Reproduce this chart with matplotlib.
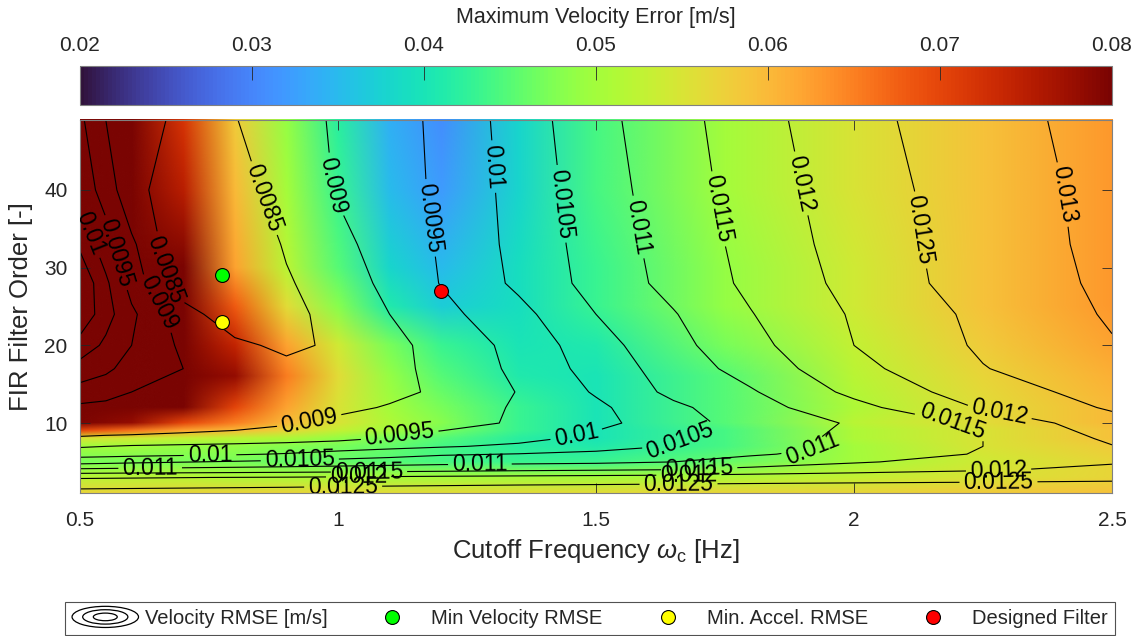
import numpy as np
import matplotlib
matplotlib.use('Agg')
import matplotlib.pyplot as plt
from matplotlib.image import NonUniformImage
from matplotlib.legend_handler import HandlerBase
from matplotlib.patches import Ellipse
from matplotlib.lines import Line2D

plt.rcParams['font.family'] = ['Liberation Sans', 'DejaVu Sans']
plt.rcParams['mathtext.fontset'] = 'custom'
plt.rcParams['mathtext.rm'] = 'Liberation Sans'
plt.rcParams['mathtext.it'] = 'Liberation Sans:italic'

# ---- velocity RMSE [m/s] over cutoff frequency (cols) x filter order (rows) ----
cutoff_rmse = [0.5, 0.55, 0.6, 0.7, 0.8, 0.9, 1.0, 1.1, 1.2, 1.35, 1.5, 1.65, 1.8, 2.0, 2.25, 2.5]
order_rmse = [1, 2, 3, 4, 5, 6, 7, 8, 10, 12, 14, 17, 20, 24, 28, 33, 40, 49]
rmse = [
    [.01270, .01271, .01272, .01274, .01276, .01278, .01280, .01282, .01284, .01286, .01288, .01290, .01292, .01294, .01296, .01298],
    [.01232, .01233, .01234, .01236, .01238, .01240, .01243, .01246, .01248, .01251, .01253, .01255, .01257, .01259, .01261, .01263],
    [.01195, .01196, .01197, .01199, .01201, .01203, .01206, .01209, .01212, .01215, .01218, .01221, .01225, .01229, .01233, .01238],
    [.01110, .01112, .01114, .01117, .01120, .01123, .01126, .01130, .01134, .01140, .01145, .01150, .01165, .01180, .01195, .01212],
    [.01030, .01035, .01040, .01048, .01055, .01062, .01070, .01076, .01082, .01086, .01090, .01100, .01118, .01145, .01170, .01195],
    [.00980, .00982, .00985, .00990, .00995, .01003, .01015, .01030, .01044, .01052, .01062, .01078, .01095, .01115, .01155, .01195],
    [.00945, .00950, .00955, .00960, .00965, .00970, .00978, .00985, .00995, .01010, .01030, .01052, .01075, .01108, .01150, .01198],
    [.00905, .00908, .00910, .00915, .00920, .00928, .00938, .00955, .00965, .00985, .01015, .01045, .01080, .01110, .01150, .01208],
    [.00870, .00870, .00870, .00875, .00882, .00895, .00915, .00925, .00935, .00955, .00985, .01030, .01070, .01105, .01160, .01232],
    [.00890, .00885, .00880, .00875, .00872, .00872, .00885, .00905, .00925, .00955, .00990, .01040, .01080, .01135, .01205, .01256],
    [.00930, .00920, .00900, .00885, .00875, .00868, .00868, .00885, .00910, .00952, .01005, .01062, .01095, .01162, .01225, .01270],
    [.00980, .00960, .00930, .00900, .00875, .00862, .00865, .00885, .00915, .00960, .01020, .01072, .01120, .01185, .01248, .01285],
    [.01030, .00990, .00950, .00890, .00860, .00840, .00858, .00888, .00915, .00966, .01030, .01085, .01135, .01200, .01257, .01297],
    [.01090, .01020, .00960, .00870, .00820, .00835, .00868, .00900, .00935, .00985, .01050, .01097, .01148, .01205, .01262, .01305],
    [.01095, .01010, .00930, .00820, .00800, .00845, .00875, .00912, .00952, .01010, .01068, .01115, .01160, .01215, .01275, .01308],
    [.01040, .00970, .00910, .00800, .00810, .00855, .00888, .00920, .00955, .01015, .01072, .01120, .01165, .01222, .01275, .01312],
    [.00980, .00930, .00860, .00830, .00835, .00865, .00904, .00930, .00958, .01018, .01078, .01125, .01172, .01228, .01275, .01315],
    [.00960, .00900, .00870, .00840, .00848, .00880, .00906, .00932, .00960, .01023, .01085, .01130, .01180, .01235, .01280, .01320],
]
rmse_levels = [0.0085, 0.009, 0.0095, 0.01, 0.0105, 0.011, 0.0115, 0.012, 0.0125, 0.013]

# ---- maximum velocity error [m/s] ----
cutoff_err = [0.5, 0.6, 0.7, 0.8, 0.9, 1.0, 1.1, 1.2, 1.35, 1.5, 1.75, 2.0, 2.25, 2.5]
order_err = [1, 3, 5, 7, 8, 9, 10, 12, 16, 20, 25, 30, 40, 49]
max_err = [
    [.057, .057, .057, .057, .057, .056, .056, .056, .056, .056, .057, .057, .058, .059],
    [.052, .052, .052, .051, .051, .051, .050, .050, .050, .050, .051, .053, .055, .057],
    [.047, .047, .047, .047, .046, .046, .045, .044, .043, .043, .046, .050, .054, .057],
    [.050, .050, .049, .049, .048, .047, .046, .044, .042, .041, .044, .050, .055, .058],
    [.055, .054, .053, .052, .051, .049, .047, .045, .042, .040, .044, .051, .055, .059],
    [.070, .066, .062, .060, .057, .053, .050, .047, .043, .040, .044, .051, .055, .059],
    [.088, .078, .070, .065, .060, .055, .051, .048, .043, .040, .045, .052, .056, .060],
    [.095, .090, .080, .070, .062, .055, .050, .047, .043, .040, .045, .051, .056, .060],
    [.095, .095, .092, .078, .065, .056, .049, .045, .041, .040, .045, .052, .057, .061],
    [.095, .095, .090, .074, .062, .054, .047, .043, .040, .041, .047, .053, .058, .062],
    [.095, .093, .087, .068, .056, .048, .041, .037, .039, .043, .049, .054, .059, .063],
    [.095, .092, .082, .062, .052, .045, .038, .035, .039, .043, .049, .054, .059, .063],
    [.092, .090, .075, .060, .050, .043, .035, .032, .038, .044, .050, .055, .059, .063],
    [.090, .090, .072, .058, .049, .042, .034, .031, .038, .044, .050, .055, .059, .063],
]

# ---- selected filters (cutoff [Hz], order) ----
min_vel_rmse = (0.775, 29)
min_acc_rmse = (0.775, 23)
designed = (1.2, 27)

# where the contour labels sit
label_spots = [
    (0.674, 29.9), (0.851, 38.8),
    (0.651, 25.4), (1.033, 40.9), (0.946, 9.7),
    (0.568, 31.9), (1.178, 36.4), (1.12, 8.1),
    (0.519, 34.4), (1.30, 43.0), (1.463, 8.1), (0.752, 5.8),
    (1.444, 38.3), (1.663, 7.7), (0.926, 5.2),
    (1.589, 35.3), (1.92, 6.8), (1.275, 4.5), (0.636, 4.2),
    (1.725, 37.4), (2.186, 8.7), (1.06, 3.7), (1.70, 3.95),
    (1.88, 40.6), (2.28, 10.6), (2.28, 4.4), (1.04, 3.0), (1.68, 3.25),
    (2.114, 34.7), (1.01, 1.6), (1.66, 1.9), (2.28, 2.4),
    (2.39, 39.3),
]

DARK = '#262626'


class ContourIcon(HandlerBase):
    # three nested ellipses, like a little contour plot
    def create_artists(self, legend, orig_handle, xdescent, ydescent,
                       width, height, fontsize, trans):
        cx = width / 2 - xdescent
        cy = height / 2 - ydescent
        arts = []
        for s in (1.0, 0.68, 0.36):
            arts.append(Ellipse((cx, cy), width * s, height * 1.5 * s,
                                fill=False, edgecolor='k', lw=0.9,
                                transform=trans))
        return arts


fig = plt.figure(figsize=(11.38, 6.36), dpi=100)
ax = fig.add_axes([80 / 1138, 1 - 493 / 636, 1032 / 1138, 373 / 636])
cax = fig.add_axes([80 / 1138, 1 - 105 / 636, 1032 / 1138, 39 / 636])

img = NonUniformImage(ax, interpolation='bilinear', cmap='turbo',
                      extent=(0.5, 2.5, 1, 49))
img.set_data(np.array(cutoff_err), np.array(order_err), np.array(max_err))
img.set_clim(0.02, 0.08)
ax.add_image(img)

cs = ax.contour(cutoff_rmse, order_rmse, np.array(rmse), levels=rmse_levels,
                colors='k', linewidths=0.8)
ax.clabel(cs, fmt='%g', fontsize=16.5, inline=True, inline_spacing=4,
          manual=label_spots)

ax.plot(*min_vel_rmse, 'o', ms=10, mfc='#00ff00', mec='k', mew=0.8)
ax.plot(*min_acc_rmse, 'o', ms=10, mfc='#ffff00', mec='k', mew=0.8)
ax.plot(*designed, 'o', ms=10, mfc='#ff0000', mec='k', mew=0.8)

ax.set_xlim(0.5, 2.5)
ax.set_ylim(1, 49)
ax.set_xticks([0.5, 1, 1.5, 2, 2.5])
ax.set_xticklabels(['0.5', '1', '1.5', '2', '2.5'])
ax.set_yticks([10, 20, 30, 40])
ax.tick_params(direction='in', top=True, right=True, length=7, width=0.6,
               colors=DARK, labelsize=15)
ax.tick_params(axis='x', pad=13)
ax.tick_params(axis='y', pad=9)
for sp in ax.spines.values():
    sp.set_color('#808080')
    sp.set_linewidth(0.8)
ax.set_xlabel(r'Cutoff Frequency $\omega_{\rm c}$ [Hz]', fontsize=18.5, color=DARK, labelpad=5)
ax.set_ylabel('FIR Filter Order [-]', fontsize=18.5, color=DARK, labelpad=8)

cb = fig.colorbar(img, cax=cax, orientation='horizontal', ticklocation='top')
cb.set_ticks([0.02, 0.03, 0.04, 0.05, 0.06, 0.07, 0.08])
cb.set_ticklabels(['0.02', '0.03', '0.04', '0.05', '0.06', '0.07', '0.08'])
cb.ax.tick_params(direction='in', length=10, width=0.6, colors=DARK,
                  labelsize=15, pad=8)
cb.outline.set_edgecolor('#808080')
cb.outline.set_linewidth(0.8)
cb.set_label('Maximum Velocity Error [m/s]', fontsize=15.5, color=DARK, labelpad=9)

proxy = Line2D([], [])
handles = [
    proxy,
    Line2D([], [], ls='none', marker='o', ms=10, mfc='#00ff00', mec='k', mew=0.8),
    Line2D([], [], ls='none', marker='o', ms=10, mfc='#ffff00', mec='k', mew=0.8),
    Line2D([], [], ls='none', marker='o', ms=10, mfc='#ff0000', mec='k', mew=0.8),
]
names = ['Velocity RMSE [m/s]', 'Min Velocity RMSE', 'Min. Accel. RMSE', 'Designed Filter']
leg = fig.legend(handles, names, handler_map={proxy: ContourIcon()},
                 loc='lower left', bbox_to_anchor=(65 / 1138, 1 / 636, 1050 / 1138, 37 / 636),
                 mode='expand', ncol=4, fontsize=14.5, frameon=True, fancybox=False,
                 handlelength=3.3, handletextpad=0.3, borderaxespad=0.0,
                 borderpad=0.35)
leg.get_frame().set_edgecolor(DARK)
leg.get_frame().set_linewidth(0.8)
for t in leg.get_texts():
    t.set_color(DARK)

fig.savefig('out.png', dpi=100)
